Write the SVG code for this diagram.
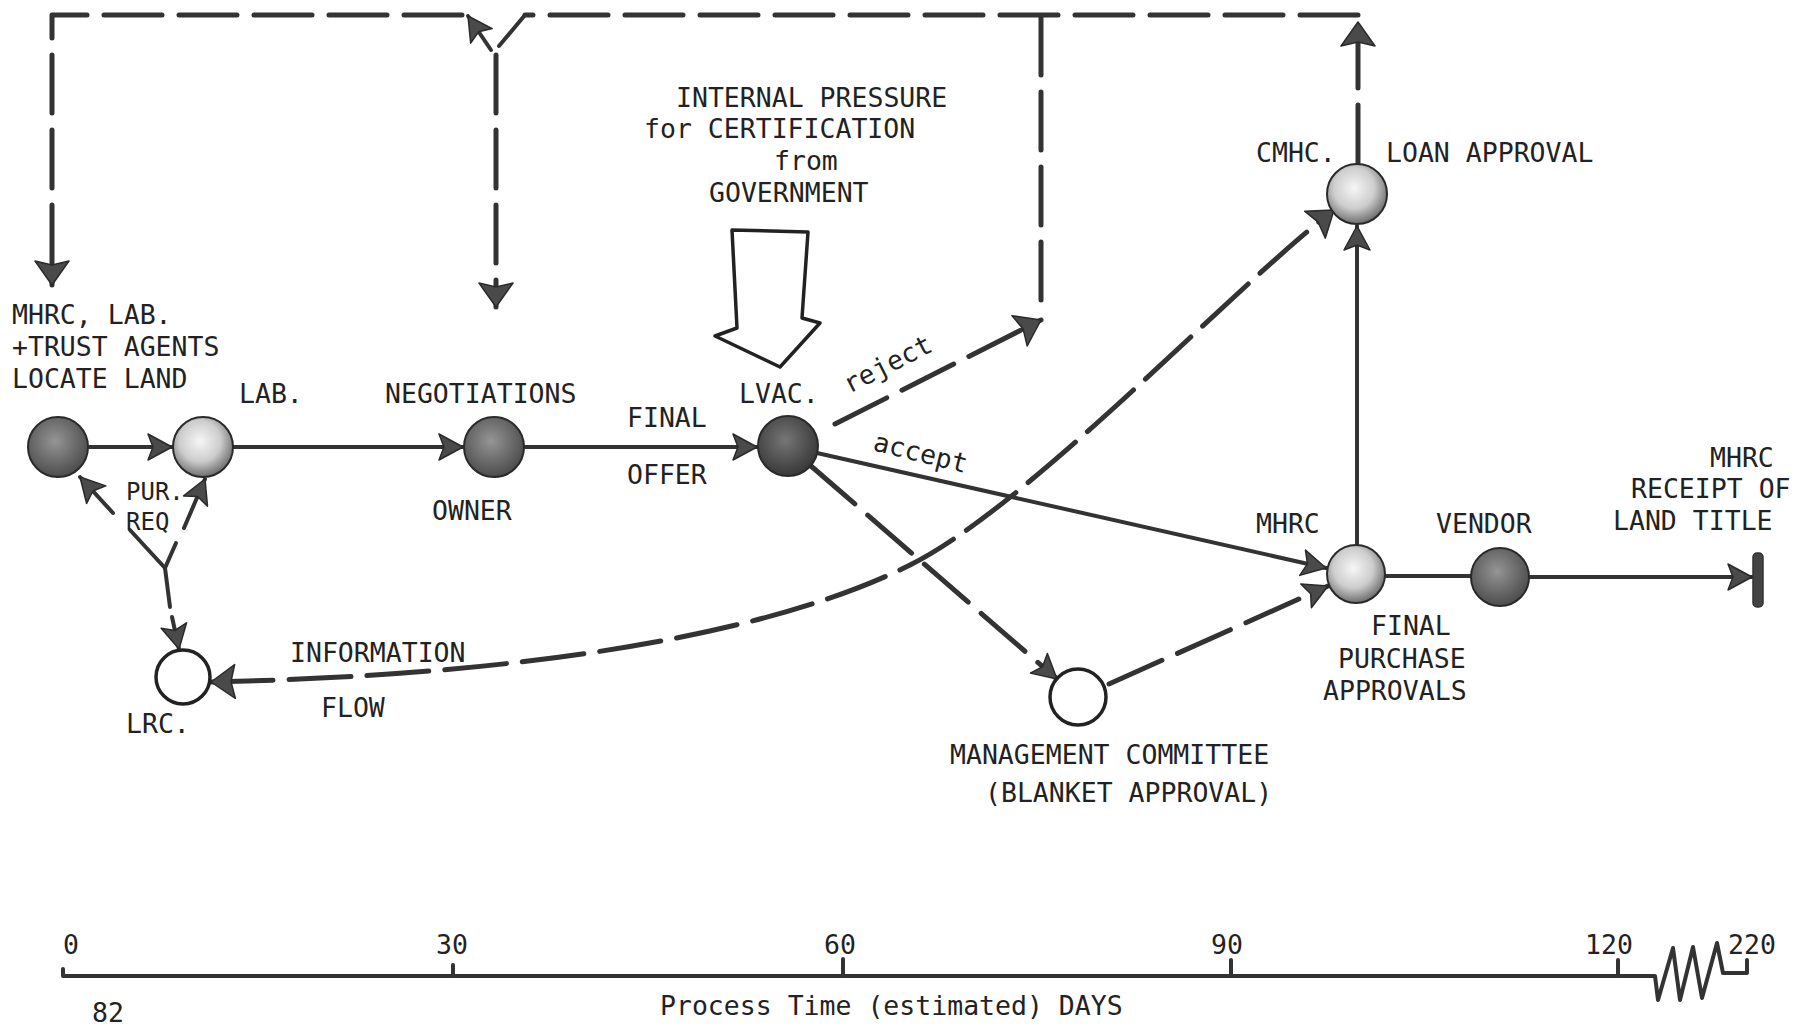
<svg xmlns="http://www.w3.org/2000/svg" width="1811" height="1026" viewBox="0 0 1811 1026">
<style>
text{font-family:"DejaVu Sans Mono","Liberation Mono",monospace;font-size:26.5px;fill:#222}
.sm{font-size:24px}
.ln{fill:none;stroke:#333;stroke-width:4;stroke-linecap:round;stroke-linejoin:round}
.dl{fill:none;stroke:#333;stroke-width:5;stroke-linecap:round;stroke-linejoin:round;stroke-dasharray:58 17}
.nd{stroke:#2a2a2a;stroke-width:2}
.op{fill:#fff;stroke:#222;stroke-width:3.5}
</style>
<defs>
<radialGradient id="gDark" cx="45%" cy="40%" r="62%"><stop offset="0" stop-color="#959595"/><stop offset="1" stop-color="#4a4a4a"/></radialGradient>
<radialGradient id="gDarker" cx="45%" cy="40%" r="62%"><stop offset="0" stop-color="#767676"/><stop offset="1" stop-color="#363636"/></radialGradient>
<radialGradient id="gLight" cx="45%" cy="40%" r="62%"><stop offset="0" stop-color="#f6f6f6"/><stop offset="0.55" stop-color="#cdcdcd"/><stop offset="1" stop-color="#666"/></radialGradient>
<marker id="ah" markerWidth="30" markerHeight="32" refX="25" refY="15" orient="auto" markerUnits="userSpaceOnUse"><path d="M1,2 L25,15 L1,28 L6,15 Z" fill="#4a4a4a" stroke="#2a2a2a" stroke-width="1.5" stroke-linejoin="round"/></marker>
<marker id="ahb" markerWidth="30" markerHeight="40" refX="25" refY="18" orient="auto-start-reverse" markerUnits="userSpaceOnUse"><path d="M1,1 L25,18 L1,35 L5,18 Z" fill="#4a4a4a" stroke="#2a2a2a" stroke-width="1.5" stroke-linejoin="round"/></marker>
</defs>

<g id="connectors">
  <!-- top feedback frame -->
  <path class="dl" d="M1358,163 L1358,22" marker-end="url(#ahb)"/>
  <path class="dl" d="M1358,15 L525,15"/>
  <path class="ln" d="M525,15 L499,46"/>
  <path class="ln" d="M491,50 L468,16" marker-end="url(#ah)"/>
  <path class="dl" d="M462,15 L52,15 L52,285" marker-end="url(#ahb)"/>
  <path class="dl" d="M496,55 L496,307" marker-end="url(#ahb)"/>
  <path class="dl" d="M1041,300 L1041,15"/>
  <!-- main flow -->
  <path class="ln" d="M88,447 L172,447" marker-end="url(#ah)"/>
  <path class="ln" d="M233,447 L463,447" marker-end="url(#ah)"/>
  <path class="ln" d="M524,447 L757,447" marker-end="url(#ah)"/>
  <path class="ln" d="M817,453 L1326,568" marker-end="url(#ah)"/>
  <path class="dl" d="M835,424 L1041,320" marker-end="url(#ahb)"/>
  <path class="dl" d="M811,466 L1057,679" marker-end="url(#ah)"/>
  <path class="dl" d="M1109,684 L1328,586" marker-end="url(#ah)"/>
  <path class="ln" d="M1385,576 L1471,576"/>
  <path class="ln" d="M1529,577 L1752,577" marker-end="url(#ah)"/>
  <path class="ln" d="M1357,545 L1357,226" marker-end="url(#ah)"/>
  <!-- information flow -->
  <path class="dl" style="stroke-dasharray:62 16" d="M211,682 C500,676 760,640 910,565 C1030,505 1230,290 1334,210" marker-start="url(#ahb)" marker-end="url(#ahb)"/>
  <!-- PUR. REQ -->
  <path class="ln" d="M165,568 L130,530"/>
  <path class="ln" d="M113,513 L80,477" marker-end="url(#ah)"/>
  <path class="ln" d="M165,568 L176,543"/>
  <path class="ln" d="M184,528 L205,479" marker-end="url(#ah)"/>
  <path class="ln" d="M165,568 L170,607"/>
  <path class="ln" d="M172,617 L179,649" marker-end="url(#ah)"/>
  <!-- government pressure arrow -->
  <path fill="#fff" stroke="#222" stroke-width="3.5" stroke-linejoin="round" d="M732,230 L808,232 L802,318 L820,323 L780,367 L715,336 L737,328 Z"/>
</g>

<g id="node-locate"><circle class="nd" cx="58" cy="447" r="30" fill="url(#gDark)"/></g>
<g id="node-lab"><circle class="nd" cx="203" cy="447" r="30" fill="url(#gLight)"/></g>
<g id="node-owner"><circle class="nd" cx="494" cy="447" r="30" fill="url(#gDark)"/></g>
<g id="node-lvac"><circle class="nd" cx="788" cy="446" r="30" fill="url(#gDarker)"/></g>
<g id="node-lrc"><circle class="op" cx="183" cy="677" r="27"/></g>
<g id="node-mgmt"><circle class="op" cx="1078" cy="697" r="28"/></g>
<g id="node-cmhc"><circle class="nd" cx="1357" cy="194" r="30" fill="url(#gLight)"/></g>
<g id="node-mhrc"><circle class="nd" cx="1356" cy="574" r="29" fill="url(#gLight)"/></g>
<g id="node-vendor"><circle class="nd" cx="1500" cy="577" r="29" fill="url(#gDark)"/></g>
<g id="node-end"><rect x="1753" y="553" width="10" height="54" rx="4" fill="#444" stroke="#333" stroke-width="1.5"/></g>

<g id="labels">
  <text x="12" y="324">MHRC, LAB.</text>
  <text x="12" y="356">+TRUST AGENTS</text>
  <text x="12" y="388">LOCATE LAND</text>
  <text x="239" y="403">LAB.</text>
  <text x="385" y="403">NEGOTIATIONS</text>
  <text x="432" y="520">OWNER</text>
  <text x="627" y="427">FINAL</text>
  <text x="627" y="484">OFFER</text>
  <text x="739" y="403">LVAC.</text>
  <text class="sm" x="126" y="500">PUR.</text>
  <text class="sm" x="126" y="530">REQ</text>
  <text x="290" y="662">INFORMATION</text>
  <text x="321" y="717">FLOW</text>
  <text x="126" y="733">LRC.</text>
  <text x="676" y="107">INTERNAL PRESSURE</text>
  <text x="644" y="138">for CERTIFICATION</text>
  <text x="774" y="170">from</text>
  <text x="709" y="202">GOVERNMENT</text>
  <text transform="translate(849,394) rotate(-27)">reject</text>
  <text transform="translate(872,450) rotate(14)">accept</text>
  <text x="1256" y="162">CMHC.</text>
  <text x="1386" y="162">LOAN APPROVAL</text>
  <text x="1256" y="533">MHRC</text>
  <text x="1436" y="533">VENDOR</text>
  <text x="1710" y="467">MHRC</text>
  <text x="1631" y="498">RECEIPT OF</text>
  <text x="1613" y="530">LAND TITLE</text>
  <text x="1371" y="635">FINAL</text>
  <text x="1338" y="668">PURCHASE</text>
  <text x="1323" y="700">APPROVALS</text>
  <text x="950" y="764">MANAGEMENT COMMITTEE</text>
  <text x="985" y="802">(BLANKET APPROVAL)</text>
</g>

<g id="axis">
  <path class="ln" d="M63,969 L63,976 L1655,976 L1658,1000 L1673,948 L1680,1000 L1693,947 L1702,998 L1717,943 L1723,973 L1747,973 L1747,960"/>
  <path class="ln" d="M453,976 V965 M843,976 V959 M1231,976 V960 M1618,976 V960"/>
  <text x="63" y="954">0</text>
  <text x="436" y="954">30</text>
  <text x="824" y="954">60</text>
  <text x="1211" y="954">90</text>
  <text x="1585" y="954">120</text>
  <text x="1728" y="954">220</text>
  <text x="660" y="1015">Process Time (estimated) DAYS</text>
  <text x="92" y="1022">82</text>
</g>
</svg>
